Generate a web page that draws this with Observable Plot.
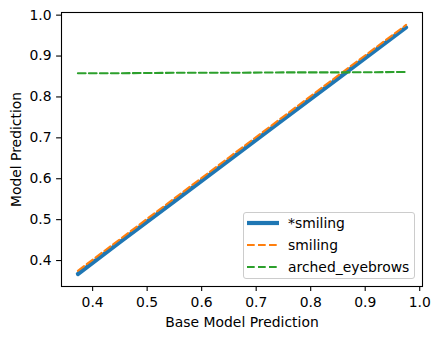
<!DOCTYPE html>
<html>
<head>
<meta charset="utf-8">
<script src="https://cdn.jsdelivr.net/npm/d3@7"></script>
<script src="https://cdn.jsdelivr.net/npm/@observablehq/plot@0.6"></script>
<style>
  html, body { margin: 0; padding: 0; background: #fff; }
  #wrap { position: relative; width: 439px; height: 339px; font-family: "DejaVu Sans", sans-serif; }
  #legend { position: absolute; left: 243px; top: 212px; width: 172px; height: 67px;
    border: 1px solid #cccccc; border-radius: 3px; background: rgba(255,255,255,0.8); box-sizing: border-box; }
  #legend svg { position: absolute; left: 0; top: 0; }
</style>
</head>
<body>
<div id="wrap"></div>
<script>
const baseX = [0.373, 0.45, 0.55, 0.65, 0.75, 0.85, 0.975];
const starSmiling = [0.367, 0.445, 0.545, 0.645, 0.745, 0.845, 0.970];
const smiling = [0.375, 0.452, 0.552, 0.652, 0.752, 0.852, 0.976];
const archedEyebrows = [0.858, 0.858, 0.859, 0.859, 0.860, 0.860, 0.861];
const seriesNames = ["*smiling", "smiling", "arched_eyebrows"];
const seriesColors = ["#1f77b4", "#ff7f0e", "#2ca02c"];
const xTicks = [0.4, 0.5, 0.6, 0.7, 0.8, 0.9, 1.0];
const yTicks = [0.4, 0.5, 0.6, 0.7, 0.8, 0.9, 1.0];

const seriesValues = [starSmiling, smiling, archedEyebrows];
const rows = [];
seriesNames.forEach((name, i) => baseX.forEach((x, j) => rows.push({series: name, x, y: seriesValues[i][j]})));

function padded(vals) {
  const [a, b] = d3.extent(vals);
  const m = (b - a) * 0.05;
  return [a - m, b + m];
}
const xDomain = padded(baseX);
const yDomain = padded(seriesValues.flat());

const FONT = 13.9;
const chart = Plot.plot({
  width: 439,
  height: 339,
  marginLeft: 61,
  marginRight: 17,
  marginTop: 12,
  marginBottom: 53,
  style: {fontFamily: "DejaVu Sans, sans-serif", fontSize: FONT + "px", color: "#000", background: "#fff"},
  x: {domain: xDomain},
  y: {domain: yDomain},
  marks: [
    Plot.axisX({ticks: xTicks, tickSize: 4.9, tickPadding: 5.5, tickFormat: d3.format(".1f"), label: null, fontSize: FONT, strokeWidth: 1.1}),
    Plot.axisY({ticks: yTicks, tickSize: 4.9, tickPadding: 5, tickFormat: d3.format(".1f"), label: null, fontSize: FONT, strokeWidth: 1.1}),
    Plot.line(rows.filter(d => d.series === seriesNames[0]), {x: "x", y: "y", stroke: seriesColors[0], strokeWidth: 4.2}),
    Plot.line(rows.filter(d => d.series === seriesNames[1]), {x: "x", y: "y", stroke: seriesColors[1], strokeWidth: 2.1, strokeDasharray: "7.7,3.3"}),
    Plot.line(rows.filter(d => d.series === seriesNames[2]), {x: "x", y: "y", stroke: seriesColors[2], strokeWidth: 2.1, strokeDasharray: "7.7,3.3"}),
    Plot.frame({stroke: "#000", strokeWidth: 1.1}),
    Plot.text(["Base Model Prediction"], {frameAnchor: "bottom", textAnchor: "middle", lineAnchor: "middle", dy: 36, fontSize: FONT, fill: "#000"}),
    Plot.text(["Model Prediction"], {frameAnchor: "left", textAnchor: "middle", lineAnchor: "middle", dx: -45, rotate: -90, fontSize: FONT, fill: "#000"})
  ]
});
const wrap = document.getElementById("wrap");
wrap.appendChild(chart);

const legend = document.createElement("div");
legend.id = "legend";
const ns = "http://www.w3.org/2000/svg";
const svg = document.createElementNS(ns, "svg");
svg.setAttribute("width", 172);
svg.setAttribute("height", 67);
seriesNames.forEach((name, i) => {
  const cy = 10 + i * 22;
  const line = document.createElementNS(ns, "line");
  line.setAttribute("x1", 3); line.setAttribute("x2", 35);
  line.setAttribute("y1", cy); line.setAttribute("y2", cy);
  line.setAttribute("stroke", seriesColors[i]);
  line.setAttribute("stroke-width", i === 0 ? 4.2 : 2.1);
  if (i > 0) line.setAttribute("stroke-dasharray", "7.7,3.3");
  svg.appendChild(line);
  const t = document.createElementNS(ns, "text");
  t.setAttribute("x", 44); t.setAttribute("y", cy);
  t.setAttribute("dy", "0.35em");
  t.setAttribute("font-size", FONT);
  t.setAttribute("font-family", "DejaVu Sans, sans-serif");
  t.textContent = name;
  svg.appendChild(t);
});
legend.appendChild(svg);
wrap.appendChild(legend);
</script>
</body>
</html>
